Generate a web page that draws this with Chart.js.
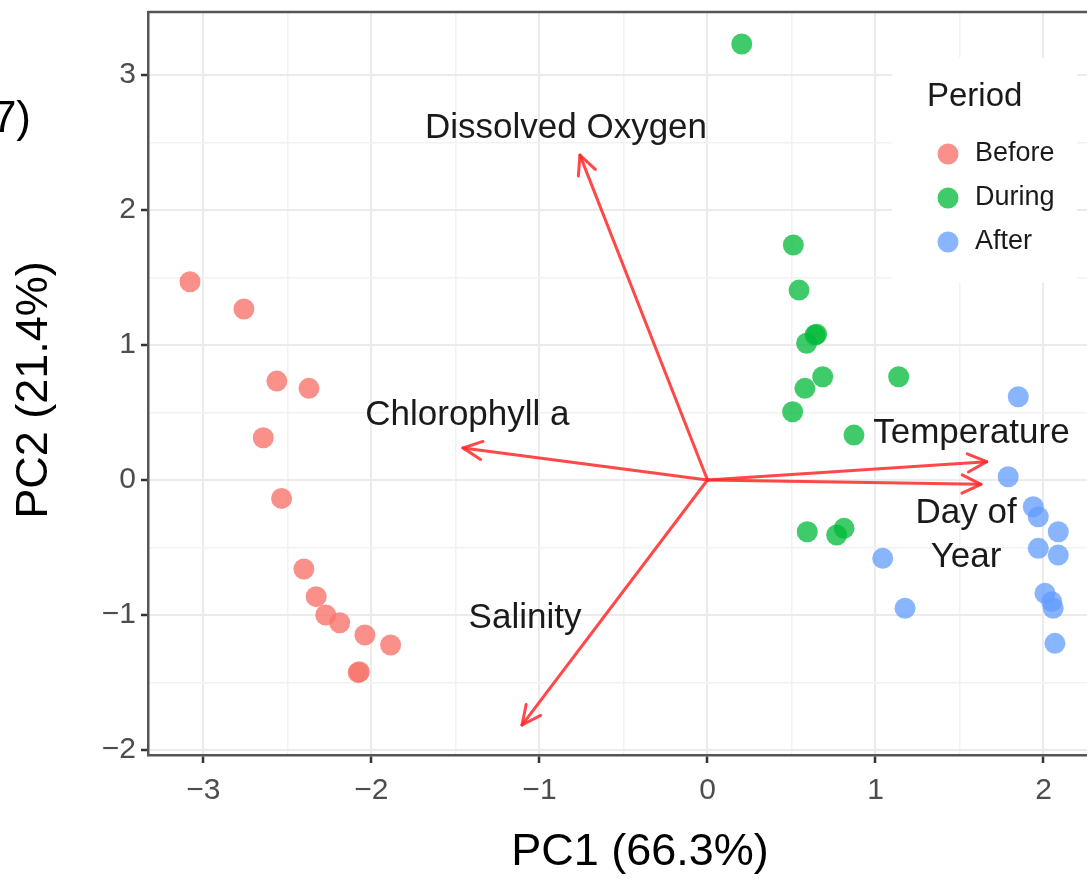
<!DOCTYPE html>
<html>
<head>
<meta charset="utf-8">
<title>PCA biplot</title>
<script src="https://cdn.jsdelivr.net/npm/chart.js@4.4.1/dist/chart.umd.min.js"></script>
<style>
  html, body { margin: 0; padding: 0; background: #ffffff; overflow: hidden; }
  canvas { display: block; }
</style>
</head>
<body>
<canvas id="pcaChart" width="1087" height="879"></canvas>
<script>
// ======================================================
// DATA (PC scores)
// ======================================================
const beforeX = [-3.080, -2.759, -2.563, -2.372, -2.644, -2.535, -2.402, -2.329, -2.272, -2.189, -2.039, -1.886, -2.079, -2.072];
const beforeY = [ 1.469,  1.267,  0.733,  0.679,  0.313, -0.136, -0.659, -0.864, -1.000, -1.057, -1.148, -1.222, -1.427, -1.420];

const duringX = [0.204, 0.511, 0.545, 0.640, 0.590, 0.650, 0.686, 0.580, 0.507, 1.138, 0.872,  0.594,  0.813,  0.769];
const duringY = [3.230, 1.741, 1.407, 1.074, 1.013, 1.080, 0.765, 0.679, 0.506, 0.765, 0.333, -0.383, -0.358, -0.407];

const afterX = [1.850, 1.790,  1.939,  1.969,  2.088,  1.969,  2.088,  1.043,  1.176,  2.009,  2.049,  2.058,  2.068];
const afterY = [0.617, 0.024, -0.198, -0.272, -0.383, -0.506, -0.556, -0.580, -0.950, -0.839, -0.901, -0.950, -1.210];

// loading vectors (arrow tips) and their label anchors
const loadingNames  = ["Dissolved Oxygen", "Chlorophyll a", "Salinity", "Temperature", ["Day of", "Year"]];
const loadingX      = [-0.759, -1.455, -1.104, 1.662,  1.628];
const loadingY      = [ 2.407,  0.237, -1.815, 0.136, -0.032];
const loadingLabelX = [-0.842, -1.429, -1.086, 1.571,  1.539];
const loadingLabelY = [ 2.607,  0.481, -1.022, 0.348, -0.411];

const periodNames  = ["Before", "During", "After"];
const periodColors = ["rgba(248,118,109,0.8)", "rgba(0,186,56,0.75)", "rgba(97,156,255,0.75)"];

const xMajorTicks = [-3, -2, -1, 0, 1, 2];
const yMajorTicks = [-2, -1, 0, 1, 2, 3];
const xMinorTicks = [-2.5, -1.5, -0.5, 0.5, 1.5];
const yMinorTicks = [-1.5, -0.5, 0.5, 1.5, 2.5];

const xTitle = "PC1 (66.3%)";
const yTitle = "PC2 (21.4%)";
const legendTitle = "Period";
const cornerText = "7)";

// ── shared styles ─────────────────────────────────────
const FONT = "'Liberation Sans', Arial, Helvetica, sans-serif";
const ARROW_COLOR = "rgba(255,40,40,0.85)";

function toPoints(xs, ys) {
    return xs.map((x, i) => ({ x: x, y: ys[i] }));
}

function tickList(major, minor) {
    return major.concat(minor).sort((a, b) => a - b).map(v => ({ value: v }));
}

function isMajor(v) {
    return Math.abs(v - Math.round(v)) < 1e-6;
}

function fmt(v) {
    return v < 0 ? "\u2212" + Math.abs(v) : String(v);
}

// ======================================================
// PLUGIN: loading arrows + labels
// ======================================================
const arrowPlugin = {
    id: "arrows",
    afterDatasetsDraw(chart) {
        const ctx = chart.ctx;
        const xs = chart.scales.x, ys = chart.scales.y;
        const ox = xs.getPixelForValue(0), oy = ys.getPixelForValue(0);

        ctx.save();
        ctx.strokeStyle = ARROW_COLOR;
        ctx.lineWidth = 3;
        ctx.lineCap = "round";
        ctx.lineJoin = "round";
        loadingX.forEach((lx, i) => {
            const tx = xs.getPixelForValue(lx);
            const ty = ys.getPixelForValue(loadingY[i]);
            const ang = Math.atan2(ty - oy, tx - ox);
            const head = 21, spread = Math.PI / 7;
            ctx.beginPath();
            ctx.moveTo(ox, oy);
            ctx.lineTo(tx, ty);
            ctx.stroke();
            ctx.beginPath();
            ctx.moveTo(tx - head * Math.cos(ang - spread), ty - head * Math.sin(ang - spread));
            ctx.lineTo(tx, ty);
            ctx.lineTo(tx - head * Math.cos(ang + spread), ty - head * Math.sin(ang + spread));
            ctx.stroke();
        });

        ctx.fillStyle = "#1a1a1a";
        ctx.font = "35px " + FONT;
        ctx.textAlign = "center";
        ctx.textBaseline = "middle";
        loadingNames.forEach((name, i) => {
            const cx = xs.getPixelForValue(loadingLabelX[i]);
            const cy = ys.getPixelForValue(loadingLabelY[i]);
            const lines = Array.isArray(name) ? name : [name];
            const lh = 44;
            lines.forEach((ln, j) => {
                ctx.fillText(ln, cx, cy + (j - (lines.length - 1) / 2) * lh);
            });
        });
        ctx.restore();
    }
};

// ======================================================
// PLUGIN: panel border, legend, axis titles
// ======================================================
const framePlugin = {
    id: "frame",
    afterDraw(chart) {
        const ctx = chart.ctx;
        const a = chart.chartArea;
        ctx.save();

        // panel border (top edge visible, right is off-canvas)
        ctx.strokeStyle = "#555555";
        ctx.lineWidth = 2.5;
        ctx.beginPath();
        ctx.moveTo(a.left, a.top);
        ctx.lineTo(a.right + 5, a.top);
        ctx.stroke();

        // legend box inside the panel
        ctx.fillStyle = "#ffffff";
        ctx.fillRect(892, 58, 185, 225);
        ctx.fillStyle = "#1a1a1a";
        ctx.textBaseline = "middle";
        ctx.textAlign = "left";
        ctx.font = "33px " + FONT;
        ctx.fillText(legendTitle, 927, 97);
        ctx.font = "27px " + FONT;
        const rowY = [154, 198, 242];
        periodNames.forEach((name, i) => {
            ctx.fillStyle = periodColors[i];
            ctx.beginPath();
            ctx.arc(948, rowY[i], 10.5, 0, Math.PI * 2);
            ctx.fill();
            ctx.fillStyle = "#1a1a1a";
            ctx.fillText(name, 975, rowY[i]);
        });

        // axis titles
        ctx.fillStyle = "#000000";
        ctx.font = "45px " + FONT;
        ctx.textAlign = "center";
        ctx.fillText(xTitle, 640, 853);
        ctx.save();
        ctx.translate(35, 390);
        ctx.rotate(-Math.PI / 2);
        ctx.fillText(yTitle, 0, 0);
        ctx.restore();

        // cropped figure text in the corner
        ctx.textAlign = "right";
        ctx.font = "44px " + FONT;
        ctx.fillText(cornerText, 31, 120);

        ctx.restore();
    }
};

// ======================================================
// CHART
// ======================================================
const gridColor = c => isMajor(c.tick.value) ? "#EBEBEB" : "#F2F2F2";
const gridWidth = c => isMajor(c.tick.value) ? 2 : 1.5;
const tickColor = c => isMajor(c.tick.value) ? "#333333" : "rgba(0,0,0,0)";

new Chart(document.getElementById("pcaChart").getContext("2d"), {
    type: "scatter",
    data: {
        datasets: [
            { label: periodNames[0], data: toPoints(beforeX, beforeY), backgroundColor: periodColors[0] },
            { label: periodNames[1], data: toPoints(duringX, duringY), backgroundColor: periodColors[1] },
            { label: periodNames[2], data: toPoints(afterX,  afterY),  backgroundColor: periodColors[2] }
        ]
    },
    options: {
        responsive: false,
        animation: false,
        events: [],
        layout: { autoPadding: false, padding: { top: 12, right: 0, bottom: 0, left: 0 } },
        elements: { point: { radius: 10.5, borderWidth: 0, hoverRadius: 10.5 } },
        plugins: {
            legend: { display: false },
            tooltip: { enabled: false }
        },
        scales: {
            x: {
                type: "linear",
                min: -3.330,
                max: 2.259,
                afterBuildTicks: s => { s.ticks = tickList(xMajorTicks, xMinorTicks); },
                afterFit: s => { s.height = 124; s.paddingLeft = 0; s.paddingRight = 0; },
                border: { display: true, color: "#555555", width: 2.5 },
                grid: { color: gridColor, lineWidth: gridWidth, tickColor: tickColor, tickLength: 8, tickWidth: 2.5 },
                ticks: {
                    autoSkip: false,
                    maxRotation: 0,
                    padding: 10,
                    color: "#4d4d4d",
                    font: { family: FONT, size: 30 },
                    callback: v => isMajor(v) ? fmt(v) : ""
                }
            },
            y: {
                type: "linear",
                min: -2.037,
                max: 3.467,
                afterBuildTicks: s => { s.ticks = tickList(yMajorTicks, yMinorTicks); },
                afterFit: s => { s.width = 148; s.paddingTop = 0; s.paddingBottom = 0; },
                border: { display: true, color: "#555555", width: 2.5 },
                grid: { color: gridColor, lineWidth: gridWidth, tickColor: tickColor, tickLength: 7, tickWidth: 2.5 },
                ticks: {
                    autoSkip: false,
                    padding: 5,
                    color: "#4d4d4d",
                    font: { family: FONT, size: 30 },
                    callback: v => isMajor(v) ? fmt(v) : ""
                }
            }
        }
    },
    plugins: [arrowPlugin, framePlugin]
});
</script>
</body>
</html>
